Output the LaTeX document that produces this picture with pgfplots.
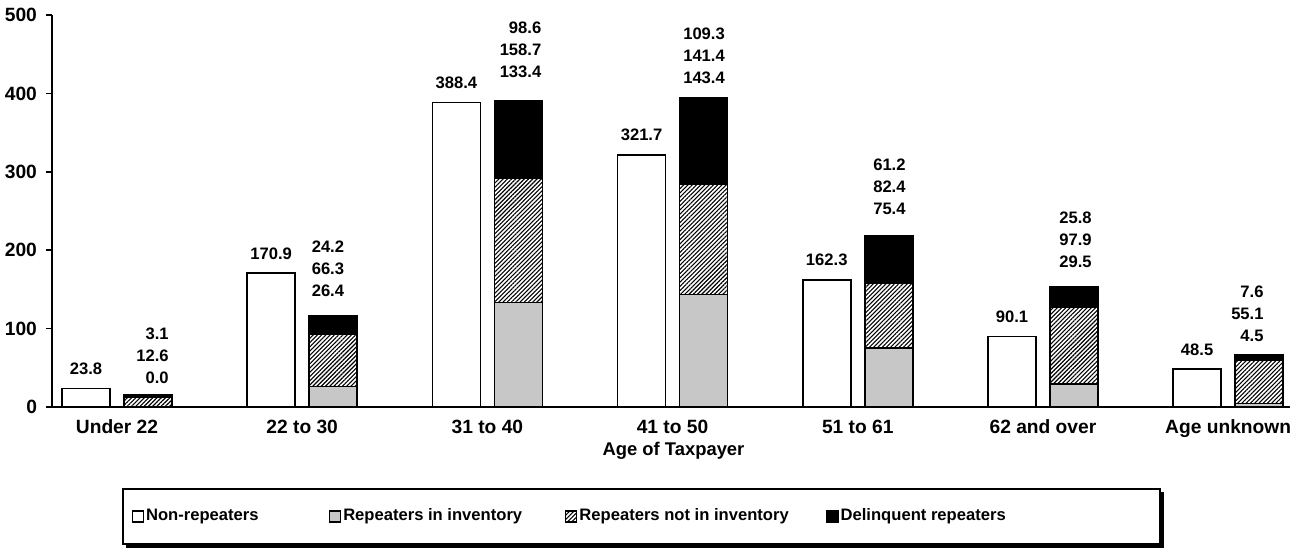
\documentclass[border=0pt]{standalone}
\usepackage{fontspec}
\setmainfont{Liberation Sans}
\usepackage{pgfplots}
\pgfplotsset{compat=1.18}
\usetikzlibrary{patterns.meta}
\newcommand{\lf}{\bfseries\fontsize{8.3}{11}\selectfont}
\newcommand{\cf}{\bfseries\fontsize{9.6}{11}\selectfont}
\pgfplotsset{
  common/.style={
    scale only axis, width=619pt, height=196pt,
    xmin=-0.351, xmax=6.334, ymin=0, ymax=500,
    clip=false,
  },
  /pgf/number format/assume math mode=true,
}
\tikzset{hatch/.style={pattern={Lines[angle=45,distance=1.5pt,line width=0.55pt]}}}

\begin{document}
\begin{tikzpicture}
\useasboundingbox (-26pt,-76pt) rectangle (627.5pt,203.5pt);
\begin{axis}[common,
  axis lines=left, axis line style={line width=1.1pt, -},
  ybar, bar width=24pt,
  ytick={0,100,200,300,400,500},
  ytick style={line width=0.8pt, black}, major tick length=3pt, tick align=outside,
  xtick={0,1,2,3,4,5,6},
  xticklabels={Under 22, 22 to 30, 31 to 40, 41 to 50, 51 to 61, 62 and over, Age unknown},
  xtick style={draw=none},
  yticklabel style={font=\cf, xshift=-1pt},
  xticklabel style={font=\cf},
  xlabel={Age of Taxpayer},
  xlabel style={font=\lf\fontsize{9.2}{11}\selectfont, at={(axis description cs:0.502,-0.112)}, anchor=center},
  nodes near coords={\pgfmathprintnumber[fixed,fixed zerofill,precision=1]{\pgfplotspointmeta}},
  every node near coord/.append style={font=\lf, anchor=south, inner sep=0pt, yshift=6.5pt},
]
\addplot[ybar, bar shift=-15.5pt, draw=black, fill=white, line width=0.8pt]
  coordinates {(0,23.8) (1,170.9) (2,388.4) (3,321.7) (4,162.3) (5,90.1) (6,48.5)};
\end{axis}

\begin{axis}[common, hide axis,
  ybar stacked, bar width=24pt,
  legend style={name=leg, at={(axis description cs:0.0565,-0.2066)}, anchor=north west,
    legend columns=4, draw=black, line width=0.9pt, fill=white,
    inner xsep=4.5pt, inner ysep=9pt, font=\lf,
    nodes={inner sep=1pt}, cells={anchor=west},
    /tikz/every even column/.append style={column sep=0pt}},
  every axis plot post/.append style={
    legend image code/.code={\draw[#1, line width=0.6pt] (0pt,-2.75pt) rectangle (5.5pt,2.75pt);}},
]
\addlegendimage{draw=black, fill=white}
\addlegendentry{\makebox[90.5pt][l]{Non-repeaters}}
\addplot[bar shift=15.5pt, draw=black, fill=black!22, line width=0.8pt]
  coordinates {(0,0.0) (1,26.4) (2,133.4) (3,143.4) (4,75.4) (5,29.5) (6,4.5)};
\addlegendentry{\makebox[110pt][l]{Repeaters in inventory}}
\addplot[bar shift=15.5pt, draw=black, hatch, line width=0.8pt]
  coordinates {(0,12.6) (1,66.3) (2,158.7) (3,141.4) (4,82.4) (5,97.9) (6,55.1)};
\addlegendentry{\makebox[122.5pt][l]{Repeaters not in inventory}}
\addplot[bar shift=15.5pt, draw=black, fill=black, line width=0.8pt]
  coordinates {(0,3.1) (1,24.2) (2,98.6) (3,109.3) (4,61.2) (5,25.8) (6,7.6)};
\addlegendentry{\makebox[154pt][l]{Delinquent repeaters}}

\node[font=\lf, align=right, inner sep=0pt] at (axis cs:0.192,65.1) {3.1\\12.6\\0.0};
\node[font=\lf, align=right, inner sep=0pt] at (axis cs:1.139,176.0) {24.2\\66.3\\26.4};
\node[font=\lf, align=right, inner sep=0pt] at (axis cs:2.179,455.4) {98.6\\158.7\\133.4};
\node[font=\lf, align=right, inner sep=0pt] at (axis cs:3.170,447.7) {109.3\\141.4\\143.4};
\node[font=\lf, align=right, inner sep=0pt] at (axis cs:4.171,280.6) {61.2\\82.4\\75.4};
\node[font=\lf, align=right, inner sep=0pt] at (axis cs:5.176,213.0) {25.8\\97.9\\29.5};
\node[font=\lf, align=right, inner sep=0pt] at (axis cs:6.104,119.5) {7.6\\55.1\\4.5};
\end{axis}
\draw[line width=1.4pt] ([xshift=2pt,yshift=-0.9pt]leg.south west) -- ([xshift=0.9pt,yshift=-0.9pt]leg.south east) -- ([xshift=0.9pt,yshift=-2pt]leg.north east);
\end{tikzpicture}
\end{document}
